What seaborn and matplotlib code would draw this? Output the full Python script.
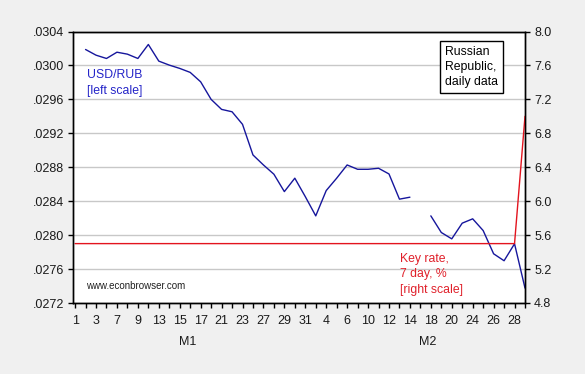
import numpy as np
import pandas as pd
import matplotlib
matplotlib.use('Agg')
import matplotlib.pyplot as plt
import seaborn as sns

# business days shown on the axis (Jan, Feb, first day of Mar)
jan_days = [1, 2, 3, 6, 7, 8, 9, 10, 13, 14, 15, 16, 17, 20, 21, 22, 23, 24, 27, 28, 29, 30, 31]
feb_days = [3, 4, 5, 6, 7, 10, 11, 12, 13, 14, 17, 18, 19, 20, 21, 24, 25, 26, 27, 28]
mar_days = [3]
days = jan_days + feb_days + mar_days

# USD/RUB (left scale), NaN = no quote
usd_rub = [np.nan, 0.030188, 0.030121, 0.030082, 0.030156, 0.030133, 0.030082, 0.030247,
           0.030051, 0.030004, 0.029965, 0.029918, 0.029807, 0.029600, 0.029482, 0.029454,
           0.029306, 0.028945, 0.028827, 0.028718, 0.028513, 0.028671, 0.028454, 0.028227,
           0.028525, 0.028671, 0.028827, 0.028776, 0.028776, 0.028788, 0.028721, 0.028424,
           0.028447, np.nan, 0.028227, 0.028031, 0.027956, 0.028141, 0.028192, 0.028054,
           0.027780, 0.027698, 0.027898, 0.027376]

# key rate, 7 day, % (right scale)
key_rate = [5.5, 5.5, 5.5, 5.5, 5.5, 5.5, 5.5, 5.5, 5.5, 5.5, 5.5, 5.5, 5.5, 5.5, 5.5,
            5.5, 5.5, 5.5, 5.5, 5.5, 5.5, 5.5, 5.5, 5.5, 5.5, 5.5, 5.5, 5.5, 5.5, 5.5,
            5.5, 5.5, 5.5, 5.5, 5.5, 5.5, 5.5, 5.5, 5.5, 5.5, 5.5, 5.5, 5.5, 7.0]

left_ticks = [0.0272, 0.0276, 0.0280, 0.0284, 0.0288, 0.0292, 0.0296, 0.0300, 0.0304]
right_ticks = [4.8, 5.2, 5.6, 6.0, 6.4, 6.8, 7.2, 7.6, 8.0]

df = pd.DataFrame({'pos': range(len(days)), 'usd': usd_rub, 'key': key_rate})
df['seg'] = df['usd'].isna().cumsum()  # break the line at missing quotes

sns.set_style('white')
plt.rcParams['font.family'] = ['Liberation Sans', 'DejaVu Sans']

fig = plt.figure(figsize=(5.85, 3.74), dpi=100, facecolor='#f0f0f0')
ax = fig.add_axes([73 / 585, 1 - 303 / 374, 452 / 585, 271.5 / 374])
ax.set_facecolor('white')
ax2 = ax.twinx()

sns.lineplot(data=df, x='pos', y='usd', units='seg', estimator=None,
             color='#16169c', lw=1, ax=ax, legend=False)
sns.lineplot(data=df, x='pos', y='key', color='#e3141e', lw=1, ax=ax2)

ax.set_xlim(-0.2, 43)
ax.set_ylim(0.0272, 0.0304)
ax2.set_ylim(4.8, 8.0)

ax.set_yticks(left_ticks)
ax.set_yticklabels([f'{v:.4f}'.lstrip('0') for v in left_ticks])
ax2.set_yticks(right_ticks)
ax2.set_yticklabels([f'{v:.1f}' for v in right_ticks])

ax.set_xticks(df['pos'])
ax.set_xticklabels([str(d) if i % 2 == 0 else '' for i, d in enumerate(days)])

ax.yaxis.grid(True, color='#c8c8c8', lw=1)
ax.set_axisbelow(True)
ax2.grid(False)

for a in (ax, ax2):
    a.set_xlabel('')
    a.set_ylabel('')
    for s in a.spines.values():
        s.set_color('black')
        s.set_linewidth(1)
    a.tick_params(direction='out', length=3.5, width=1, color='black',
                  labelsize=9, labelcolor='#1a1a1a', pad=3)
ax.tick_params(axis='x', pad=5, bottom=True)
ax.tick_params(axis='y', left=True)
ax2.tick_params(axis='y', right=True)

tr = ax.get_xaxis_transform()
ax.text(10.8, -0.144, 'M1', transform=tr, ha='center', va='center', fontsize=9, color='#1a1a1a')
ax.text(33.7, -0.144, 'M2', transform=tr, ha='center', va='center', fontsize=9, color='#1a1a1a')

ax.text(0.032, 0.862, 'USD/RUB\n[left scale]', transform=ax.transAxes, ha='left', va='top',
        fontsize=8.8, color='#2424c8', linespacing=1.4)
ax.text(0.881, 0.869, 'Russian\nRepublic,\ndaily data', transform=ax.transAxes,
        ha='center', va='center', multialignment='left', fontsize=8.8, color='black',
        linespacing=1.3,
        bbox=dict(boxstyle='square,pad=0.4', fc='white', ec='black', lw=1))
ax.text(0.7235, 0.183, 'Key rate,\n7 day, %\n[right scale]', transform=ax.transAxes,
        ha='left', va='top', fontsize=8.8, color='#e0202a', linespacing=1.35)
ax.text(0.029, 0.063, 'www.econbrowser.com', transform=ax.transAxes, ha='left', va='center',
        fontsize=7, color='#202020')

fig.savefig('out.png', dpi=100, facecolor=fig.get_facecolor())
